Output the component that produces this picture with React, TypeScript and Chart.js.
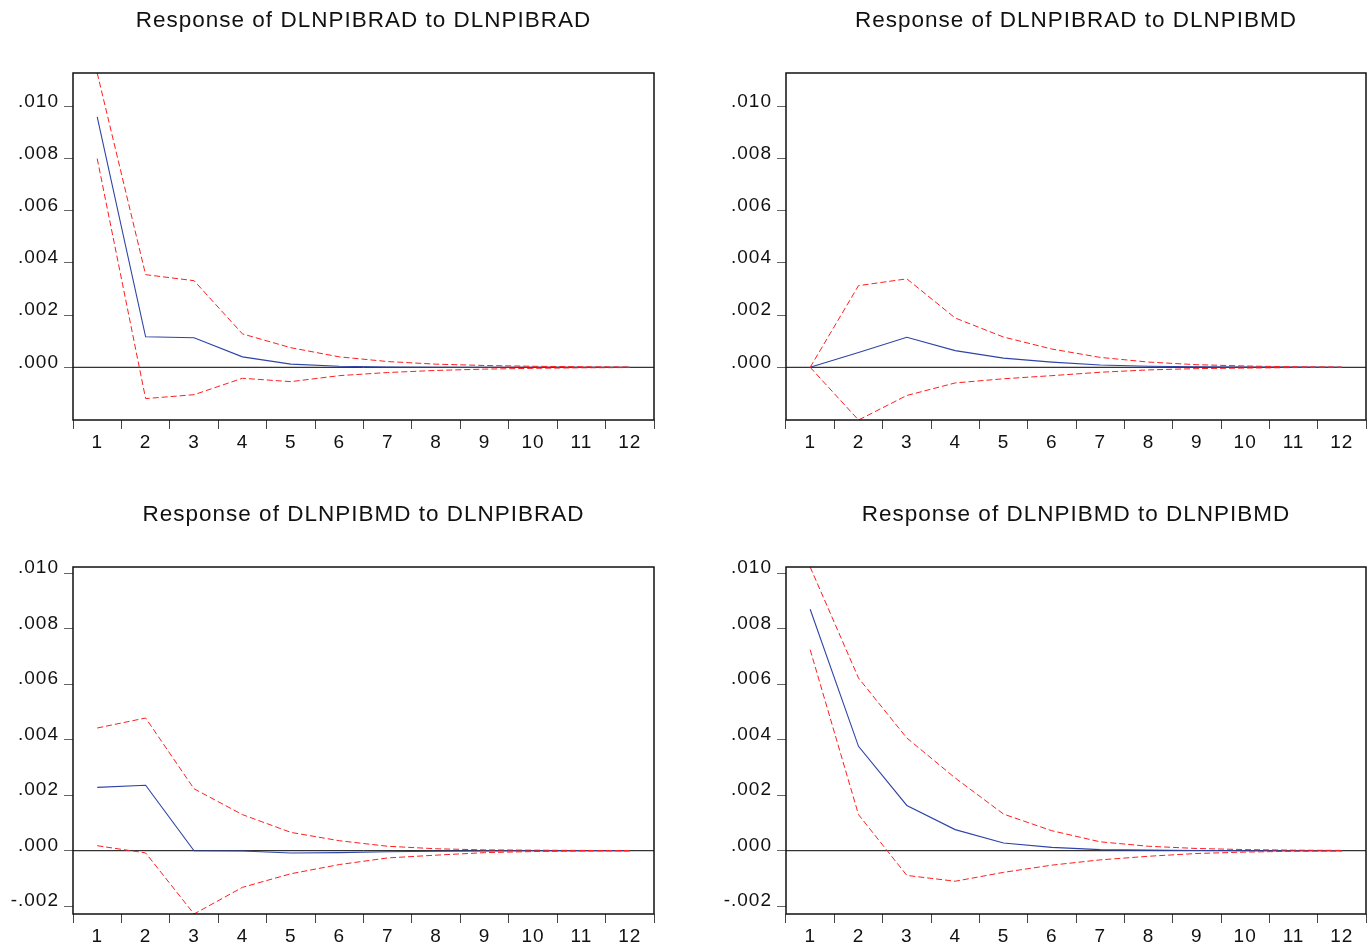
import React, { useEffect, useRef } from 'react';
import { Chart, registerables } from 'chart.js';

Chart.register(...registerables);

// ---------- data ----------
const periods = ['1', '2', '3', '4', '5', '6', '7', '8', '9', '10', '11', '12'];

const titles = [
  'Response of DLNPIBRAD to DLNPIBRAD',
  'Response of DLNPIBRAD to DLNPIBMD',
  'Response of DLNPIBMD to DLNPIBRAD',
  'Response of DLNPIBMD to DLNPIBMD',
];

// Response of DLNPIBRAD to DLNPIBRAD
const resp11 = [0.0096, 0.00117, 0.00113, 0.0004, 0.00012, 0.00004, 0.00001, 0.0, 0.0, 0.0, 0.0, 0.0];
const upper11 = [0.01128, 0.00355, 0.00332, 0.00128, 0.00075, 0.0004, 0.00022, 0.00012, 0.00007, 0.00004, 0.00002, 0.00001];
const lower11 = [0.008, -0.0012, -0.00105, -0.00042, -0.00055, -0.00032, -0.0002, -0.00012, -0.00007, -0.00004, -0.00002, -0.00001];

// Response of DLNPIBRAD to DLNPIBMD
const resp12 = [0.0, 0.00057, 0.00115, 0.00064, 0.00035, 0.0002, 0.00009, 0.00004, 0.00002, 0.00001, 0.000005, 0.0];
const upper12 = [0.0, 0.00313, 0.00339, 0.00189, 0.00116, 0.0007, 0.00038, 0.0002, 0.0001, 0.00005, 0.00002, 0.00001];
const lower12 = [0.0, -0.00202, -0.00108, -0.0006, -0.00044, -0.00032, -0.00019, -0.0001, -0.00005, -0.00003, -0.00001, -0.000005];

// Response of DLNPIBMD to DLNPIBRAD
const resp21 = [0.00228, 0.00236, 0.0, -0.00001, -0.00008, -0.00007, -0.00004, -0.00002, -0.00001, 0.0, 0.0, 0.0];
const upper21 = [0.00442, 0.00478, 0.00223, 0.0013, 0.00066, 0.00036, 0.00016, 0.00007, 0.00003, 0.00002, 0.00001, 0.0];
const lower21 = [0.00018, -0.00008, -0.00228, -0.00132, -0.00083, -0.0005, -0.00026, -0.00016, -0.00007, -0.00003, -0.00001, 0.0];

// Response of DLNPIBMD to DLNPIBMD
const resp22 = [0.0087, 0.00376, 0.00163, 0.00076, 0.00028, 0.00012, 0.00004, 0.00002, 0.00001, 0.0, 0.0, 0.0];
const upper22 = [0.01022, 0.00622, 0.00406, 0.00262, 0.00132, 0.00072, 0.00032, 0.00016, 0.00008, 0.00004, 0.00002, 0.00001];
const lower22 = [0.00724, 0.0013, -0.00089, -0.0011, -0.00078, -0.00052, -0.00033, -0.0002, -0.0001, -0.00005, -0.00002, -0.00001];

// axis ranges and tick values
const yRangeTop = [-0.00202, 0.01128];
const yRangeBottom = [-0.00228, 0.01022];
const yTicksTop = [0.0, 0.002, 0.004, 0.006, 0.008, 0.01];
const yTicksBottom = [-0.002, 0.0, 0.002, 0.004, 0.006, 0.008, 0.01];

// ---------- styling ----------
const FONT = "'Liberation Sans', Arial, Helvetica, sans-serif";
const BLUE = '#2E44A6';
const RED = '#FF1E1E';

const fmt = (v: number) => {
  const s = Math.abs(v).toFixed(3).replace(/^0/, '');
  return v < -1e-12 ? '-' + s : s;
};

const framePlugin = {
  id: 'frameAndZero',
  beforeDraw(chart: any) {
    (chart.ctx as any).letterSpacing = '1px';
  },
  beforeDatasetsDraw(chart: any) {
    const { ctx, chartArea: a, scales } = chart;
    const y0 = scales.y.getPixelForValue(0);
    ctx.save();
    ctx.strokeStyle = '#000';
    ctx.lineWidth = 1;
    ctx.beginPath();
    ctx.moveTo(a.left, y0);
    ctx.lineTo(a.right, y0);
    ctx.stroke();
    ctx.restore();
  },
  afterDraw(chart: any) {
    const { ctx, chartArea: a } = chart;
    ctx.save();
    ctx.strokeStyle = '#111';
    ctx.lineWidth = 1.5;
    ctx.strokeRect(a.left, a.top, a.right - a.left, a.bottom - a.top);
    ctx.restore();
  },
};

type PanelProps = {
  title: string;
  resp: number[];
  upper: number[];
  lower: number[];
  range: number[];
  yTicks: number[];
  yWidth: number;
  rightPad: number;
  left: number;
  top: number;
  width: number;
  height: number;
};

function Panel(p: PanelProps) {
  const ref = useRef<HTMLCanvasElement | null>(null);
  useEffect(() => {
    if (!ref.current) return;
    const xH = 31;
    const chart = new Chart(ref.current, {
      type: 'line',
      data: {
        labels: periods,
        datasets: [
          {
            data: p.upper,
            borderColor: RED,
            borderWidth: 1,
            borderDash: [6, 3],
            pointRadius: 0,
            tension: 0,
            fill: false,
          },
          {
            data: p.lower,
            borderColor: RED,
            borderWidth: 1,
            borderDash: [6, 3],
            pointRadius: 0,
            tension: 0,
            fill: false,
          },
          {
            data: p.resp,
            borderColor: BLUE,
            borderWidth: 1.1,
            pointRadius: 0,
            tension: 0,
            fill: false,
          },
        ],
      },
      options: {
        animation: false,
        responsive: true,
        maintainAspectRatio: false,
        layout: { padding: { left: 0, right: p.rightPad, top: 0, bottom: 0 } },
        plugins: {
          legend: { display: false },
          tooltip: { enabled: false },
          title: {
            display: true,
            text: p.title,
            fullSize: false,
            color: '#111',
            font: { size: 22.5, family: FONT, weight: 'normal', lineHeight: 1.2 },
            padding: { top: 7, bottom: 39 },
          },
        },
        scales: {
          x: {
            type: 'category',
            offset: true,
            grid: {
              offset: true,
              drawOnChartArea: false,
              drawTicks: true,
              tickLength: 9,
              color: '#444',
              lineWidth: 1,
            },
            border: { display: false },
            ticks: {
              color: '#111',
              font: { size: 19, family: FONT },
              padding: 2,
              maxRotation: 0,
              autoSkip: false,
            },
            afterFit: (s: any) => {
              s.height = xH;
            },
          },
          y: {
            type: 'linear',
            min: p.range[0],
            max: p.range[1],
            afterBuildTicks: (s: any) => {
              s.ticks = p.yTicks.map((v) => ({ value: v }));
            },
            grid: {
              drawOnChartArea: false,
              drawTicks: true,
              tickLength: 9,
              color: '#666',
              lineWidth: 1,
            },
            border: { display: false },
            ticks: {
              color: '#111',
              font: { size: 19, family: FONT },
              padding: 5,
              labelOffset: -5,
              callback: (v: any) => fmt(Number(v)),
            },
            afterFit: (s: any) => {
              s.width = p.yWidth;
            },
          },
        },
      } as any,
      plugins: [framePlugin as any],
    });
    return () => chart.destroy();
  }, []);
  return (
    <div
      style={{
        position: 'absolute',
        left: p.left,
        top: p.top,
        width: p.width,
        height: p.height,
      }}
    >
      <canvas ref={ref} />
    </div>
  );
}

export default function App() {
  const rowTops = [0, 494];
  const colLefts = [0, 684];
  const colWidths = [684, 685];
  const yWidths = [73, 102];
  const rightPads = [30, 3];
  const H = 451;
  const panels = [
    { resp: resp11, upper: upper11, lower: lower11, row: 0, col: 0 },
    { resp: resp12, upper: upper12, lower: lower12, row: 0, col: 1 },
    { resp: resp21, upper: upper21, lower: lower21, row: 1, col: 0 },
    { resp: resp22, upper: upper22, lower: lower22, row: 1, col: 1 },
  ];
  return (
    <div
      style={{
        position: 'absolute',
        left: 0,
        top: 0,
        width: 1369,
        height: 945,
        overflow: 'hidden',
        background: '#fff',
      }}
    >
      {panels.map((pp, i) => (
        <Panel
          key={i}
          title={titles[i]}
          resp={pp.resp}
          upper={pp.upper}
          lower={pp.lower}
          range={pp.row === 0 ? yRangeTop : yRangeBottom}
          yTicks={pp.row === 0 ? yTicksTop : yTicksBottom}
          yWidth={yWidths[pp.col]}
          rightPad={rightPads[pp.col]}
          left={colLefts[pp.col]}
          top={rowTops[pp.row]}
          width={colWidths[pp.col]}
          height={H}
        />
      ))}
    </div>
  );
}
